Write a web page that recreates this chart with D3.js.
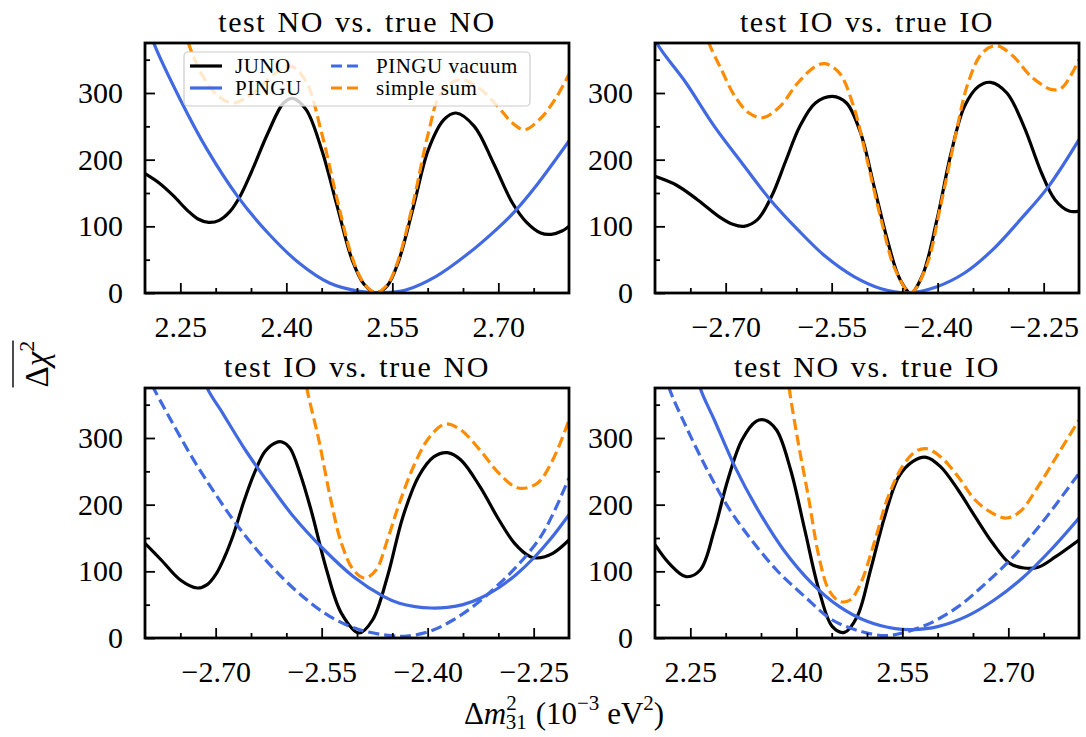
<!DOCTYPE html>
<html>
<head>
<meta charset="utf-8">
<script src="https://cdn.jsdelivr.net/npm/d3@7"></script>
<style>
  body { margin: 0; background: #fff; }
  text { font-family: "Liberation Serif", "Times New Roman", serif; fill: #000; }
</style>
</head>
<body>
<svg id="chartsvg" width="1086" height="737"></svg>
<script>
// ---- data: [delta m^2_31 (1e-3 eV^2), chi^2] ----
// test NO vs. true NO
const nnJuno = [[2.200,179],[2.220,165],[2.240,146],[2.260,124],[2.275,111],[2.290,106],[2.305,109],[2.320,122],[2.335,146],[2.350,180],[2.374,240],[2.396,285],[2.409,292],[2.428,275],[2.450,215],[2.472,130],[2.493,50],[2.510,13],[2.527,0],[2.543,11],[2.558,45],[2.580,130],[2.601,215],[2.623,260],[2.640,270],[2.666,250],[2.693,195],[2.720,135],[2.740,106],[2.760,90],[2.775,88],[2.790,93],[2.800,100]];
const nnPingu = [[2.205,400],[2.212,376],[2.250,290],[2.288,215],[2.331,145],[2.374,90],[2.418,45],[2.461,15],[2.504,2.5],[2.537,0.5],[2.569,4.5],[2.612,25],[2.656,58],[2.699,97],[2.723,122],[2.753,160],[2.800,228]];
const nnSum = [[2.255,400],[2.261,376],[2.282,325],[2.304,295],[2.325,285],[2.353,300],[2.385,330],[2.407,340],[2.428,317],[2.450,240],[2.472,140],[2.493,54],[2.510,14],[2.527,0.5],[2.543,12.5],[2.558,48],[2.580,138],[2.601,240],[2.618,298],[2.645,320],[2.672,308],[2.699,280],[2.720,255],[2.737,245],[2.758,260],[2.780,290],[2.800,328]];

// test IO vs. true IO
const iiJuno = [[-2.800,175],[-2.770,162],[-2.740,140],[-2.710,115],[-2.690,103],[-2.674,100],[-2.655,110],[-2.635,145],[-2.615,198],[-2.595,250],[-2.573,285],[-2.549,295],[-2.529,285],[-2.509,240],[-2.490,160],[-2.470,75],[-2.454,22],[-2.438,0],[-2.421,28],[-2.401,110],[-2.381,210],[-2.362,280],[-2.342,310],[-2.325,316],[-2.302,300],[-2.278,250],[-2.253,180],[-2.234,140],[-2.214,123],[-2.200,123]];
const iiPingu = [[-2.805,400],[-2.798,376],[-2.756,315],[-2.716,250],[-2.677,195],[-2.637,140],[-2.598,95],[-2.559,55],[-2.519,25],[-2.480,6.5],[-2.440,0.5],[-2.401,9.5],[-2.362,30],[-2.322,65],[-2.283,110],[-2.243,160],[-2.200,230]];
const iiSum = [[-2.730,400],[-2.724,376],[-2.706,335],[-2.687,295],[-2.667,270],[-2.647,263],[-2.623,280],[-2.598,315],[-2.573,340],[-2.559,344],[-2.539,330],[-2.519,280],[-2.500,200],[-2.480,110],[-2.460,35],[-2.438,0.5],[-2.416,40],[-2.396,130],[-2.376,230],[-2.357,315],[-2.337,360],[-2.317,371],[-2.293,355],[-2.268,325],[-2.238,305],[-2.224,308],[-2.200,350]];

// test IO vs. true NO
const inJuno = [[-2.800,142],[-2.777,117],[-2.750,87],[-2.726,75],[-2.712,80],[-2.700,95],[-2.688,120],[-2.675,155],[-2.660,205],[-2.645,248],[-2.630,280],[-2.615,293],[-2.606,294],[-2.595,285],[-2.580,245],[-2.565,192],[-2.543,102],[-2.522,37],[-2.497,7.5],[-2.478,27],[-2.457,92],[-2.435,182],[-2.413,242],[-2.391,272],[-2.372,278],[-2.353,267],[-2.326,227],[-2.299,177],[-2.277,142],[-2.255,122],[-2.245,120],[-2.223,127],[-2.200,147]];
const inPingu = [[-2.718,400],[-2.712,375],[-2.690,337],[-2.658,282],[-2.625,232],[-2.592,185],[-2.549,135],[-2.505,92],[-2.462,62],[-2.440,52],[-2.418,47],[-2.395,45],[-2.372,46],[-2.350,50],[-2.325,60],[-2.300,75],[-2.275,95],[-2.250,120],[-2.225,150],[-2.200,185]];
const inVac = [[-2.800,400],[-2.788,375],[-2.766,332],[-2.734,272],[-2.701,217],[-2.668,167],[-2.625,112],[-2.582,67],[-2.538,32],[-2.495,12],[-2.451,3.5],[-2.429,3],[-2.397,10],[-2.364,27],[-2.330,52],[-2.300,80],[-2.270,112],[-2.240,152],[-2.220,192],[-2.200,240]];
const inSum = [[-2.574,400],[-2.571,375],[-2.554,297],[-2.538,212],[-2.522,142],[-2.505,102],[-2.489,90],[-2.473,102],[-2.457,147],[-2.440,202],[-2.418,262],[-2.397,302],[-2.375,321],[-2.353,312],[-2.326,282],[-2.299,247],[-2.272,225],[-2.245,232],[-2.223,267],[-2.200,327]];

// test NO vs. true IO
const niJuno = [[2.200,140],[2.220,112],[2.244,92],[2.264,102],[2.284,162],[2.303,237],[2.323,297],[2.343,325],[2.355,327],[2.372,312],[2.392,252],[2.412,162],[2.432,72],[2.451,17],[2.468,8.5],[2.486,32],[2.505,102],[2.525,182],[2.545,242],[2.565,265],[2.584,271],[2.604,257],[2.629,222],[2.653,182],[2.678,142],[2.702,112],[2.722,105],[2.742,106],[2.767,122],[2.800,147]];
const niPingu = [[2.260,400],[2.264,375],[2.284,327],[2.313,257],[2.343,197],[2.382,132],[2.422,82],[2.461,47],[2.500,25],[2.540,14],[2.565,12.5],[2.600,17],[2.640,32],[2.680,57],[2.720,90],[2.760,132],[2.800,180]];
const niVac = [[2.214,400],[2.220,375],[2.244,317],[2.274,252],[2.303,197],[2.333,152],[2.372,102],[2.412,62],[2.451,27],[2.491,10],[2.525,3.5],[2.550,7.5],[2.589,22],[2.629,47],[2.668,82],[2.707,122],[2.747,172],[2.800,247]];
const niSum = [[2.388,400],[2.390,375],[2.402,297],[2.417,212],[2.432,122],[2.446,72],[2.461,55],[2.476,57],[2.491,82],[2.510,142],[2.530,212],[2.550,257],[2.569,280],[2.584,284],[2.604,272],[2.629,242],[2.653,207],[2.678,187],[2.698,180],[2.717,190],[2.742,227],[2.771,277],[2.800,327]];

// ticks
const xTicksNO = [2.25, 2.40, 2.55, 2.70];
const xMinorNO = [2.30, 2.35, 2.45, 2.50, 2.60, 2.65, 2.75];
const xTicksIO = [-2.70, -2.55, -2.40, -2.25];
const xMinorIO = [-2.75, -2.65, -2.60, -2.50, -2.45, -2.35, -2.30];
const yTicks = [0, 100, 200, 300];
const yMinor = [50, 150, 250, 350];

const legendNames = ["JUNO", "PINGU", "PINGU vacuum", "simple sum"];

// ---- layout ----
const vis = d3.select("#chartsvg");
const panelW = 424, panelH = 250;
const colX = [145, 655], rowY = [43, 388];
const blue = "#4169e1", orange = "#ff8c00";
const dash = "11,5";

const panels = [
  {title: "test NO vs. true NO", col: 0, row: 0, dom: [2.2, 2.8], ticks: xTicksNO, minor: xMinorNO,
   lines: [[nnJuno, "#000", null], [nnPingu, blue, null], [nnSum, orange, dash]]},
  {title: "test IO vs. true IO", col: 1, row: 0, dom: [-2.8, -2.2], ticks: xTicksIO, minor: xMinorIO,
   lines: [[iiJuno, "#000", null], [iiPingu, blue, null], [iiSum, orange, dash]]},
  {title: "test IO vs. true NO", col: 0, row: 1, dom: [-2.8, -2.2], ticks: xTicksIO, minor: xMinorIO,
   lines: [[inJuno, "#000", null], [inPingu, blue, null], [inVac, blue, dash], [inSum, orange, dash]]},
  {title: "test NO vs. true IO", col: 1, row: 1, dom: [2.2, 2.8], ticks: xTicksNO, minor: xMinorNO,
   lines: [[niJuno, "#000", null], [niPingu, blue, null], [niVac, blue, dash], [niSum, orange, dash]]}
];

const y = d3.scaleLinear().domain([0, 375]).range([panelH, 0]);

panels.forEach((p, i) => {
  const x = d3.scaleLinear().domain(p.dom).range([0, panelW]);
  const g = vis.append("g").attr("transform", `translate(${colX[p.col]},${rowY[p.row]})`);

  g.append("clipPath").attr("id", "clip" + i)
    .append("rect").attr("width", panelW).attr("height", panelH);

  const line = d3.line()
    .x(d => x(d[0]))
    .y(d => y(d[1]))
    .curve(d3.curveCatmullRom.alpha(0.5));

  const plot = g.append("g").attr("clip-path", `url(#clip${i})`);
  p.lines.forEach(l => {
    plot.append("path")
      .attr("d", line(l[0]))
      .attr("fill", "none")
      .attr("stroke", l[1])
      .attr("stroke-width", 3.2)
      .attr("stroke-dasharray", l[2]);
  });

  // axes with inward ticks
  g.append("g").attr("transform", `translate(0,${panelH})`)
    .call(d3.axisBottom(x).tickValues(p.ticks).tickSize(-10).tickPadding(23).tickFormat(d3.format(".2f")));
  g.append("g").attr("transform", `translate(0,${panelH})`)
    .call(d3.axisBottom(x).tickValues(p.minor).tickSize(-5).tickFormat(""));
  g.append("g")
    .call(d3.axisLeft(y).tickValues(yTicks).tickSize(-10).tickPadding(22));
  g.append("g")
    .call(d3.axisLeft(y).tickValues(yMinor).tickSize(-5).tickFormat(""));

  g.selectAll(".domain").remove();
  g.selectAll(".tick line").attr("stroke", "#000").attr("stroke-width", 1.8);
  g.selectAll(".tick text").attr("font-size", 30).attr("font-family", "Liberation Serif");

  g.append("rect")
    .attr("width", panelW).attr("height", panelH)
    .attr("fill", "none").attr("stroke", "#000").attr("stroke-width", 2.8);

  g.append("text")
    .attr("x", panelW / 2).attr("y", -11)
    .attr("text-anchor", "middle")
    .attr("font-size", 30)
    .attr("word-spacing", 2)
    .attr("letter-spacing", 1.6)
    .text(p.title);

  // legend in first panel
  if (i === 0) {
    const lg = g.append("g").attr("transform", "translate(39,9)");
    lg.append("rect")
      .attr("width", 346).attr("height", 54).attr("rx", 4)
      .attr("fill", "#fff").attr("fill-opacity", 0.8)
      .attr("stroke", "#ccc").attr("stroke-width", 1.2);
    const items = [["#000", null], [blue, null], [blue, dash], [orange, dash]];
    items.forEach((it, k) => {
      const cx = k < 2 ? 6 : 147;
      const cy = k % 2 === 0 ? 14 : 36;
      lg.append("line")
        .attr("x1", cx).attr("x2", cx + 32).attr("y1", cy).attr("y2", cy)
        .attr("stroke", it[0]).attr("stroke-width", 3.2)
        .attr("stroke-dasharray", it[1]);
      lg.append("text")
        .attr("x", cx + 45).attr("y", cy + 7)
        .attr("font-size", 21)
        .attr("letter-spacing", 0.5)
        .text(legendNames[k]);
    });
  }
});

// y label with overline
const yl = vis.append("g").attr("transform", "translate(48,364) rotate(-90)");
const ylt = yl.append("text").attr("text-anchor", "middle").attr("font-size", 33);
ylt.append("tspan").text("Δ");
ylt.append("tspan").attr("font-style", "italic").text("χ");
ylt.append("tspan").attr("dy", -14).attr("font-size", 22).text("2");
const bb = ylt.node().getBBox();
yl.append("line")
  .attr("x1", bb.x).attr("x2", bb.x + bb.width)
  .attr("y1", bb.y - 1).attr("y2", bb.y - 1)
  .attr("stroke", "#000").attr("stroke-width", 1.4);

// x label
const xl = vis.append("text").attr("x", 564).attr("y", 724)
  .attr("text-anchor", "middle").attr("font-size", 31);
xl.append("tspan").text("Δ");
xl.append("tspan").attr("font-style", "italic").text("m");
xl.append("tspan").attr("dy", -14).attr("font-size", 21).text("2");
xl.append("tspan").attr("dx", -11).attr("dy", 19).attr("font-size", 21).text("31");
xl.append("tspan").attr("dx", 9).attr("dy", -5).text("(10");
xl.append("tspan").attr("dy", -14).attr("font-size", 21).text("−3");
xl.append("tspan").attr("dy", 14).text(" eV");
xl.append("tspan").attr("dy", -14).attr("font-size", 21).text("2");
xl.append("tspan").attr("dy", 14).text(")");
</script>
</body>
</html>
